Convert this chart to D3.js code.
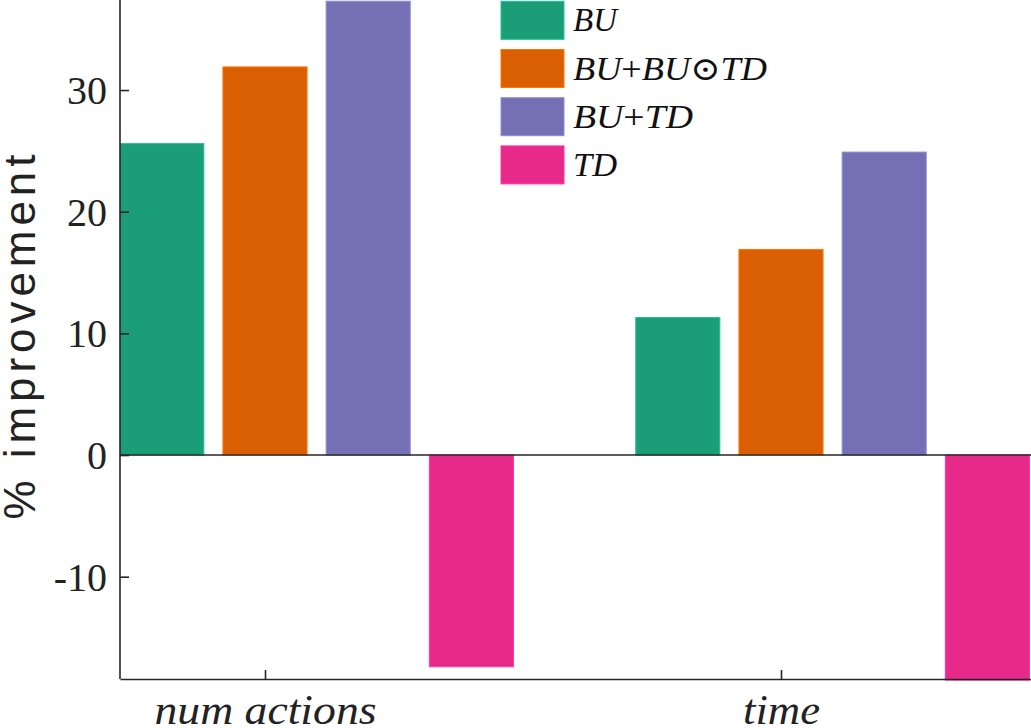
<!DOCTYPE html>
<html lang="en">
<head>
<meta charset="UTF-8">
<title>% improvement</title>
<script src="https://d3js.org/d3.v7.min.js"></script>
<style>
  body { margin: 0; background: #fff; }
  svg { display: block; }
  .serif { font-family: "Liberation Serif", "DejaVu Serif", serif; }
</style>
</head>
<body>
<script>

// groups on the x axis
var groups = ["num actions", "time"];

// series, in bar order inside each group (the first one is an unlabelled zero bar)
var series = ["base", "BU", "BU+BU\u2299TD", "BU+TD", "TD"];
var seriesColors = ["#e7298a", "#1b9e77", "#d95f02", "#7570b3", "#e7298a"];

// values per series, one per group
var baseValues = [0, 0];
var buValues = [25.6, 11.3];
var buBuTdValues = [31.9, 16.9];
var buTdValues = [37.3, 24.9];
var tdValues = [-17.4, -18.5];

var yTicks = [-10, 0, 10, 20, 30];

var width = 1031, height = 728;
var plot = {left: 120, right: 1031, top: 0, bottom: 679};

var svg = d3.select("body").append("svg")
    .attr("width", width)
    .attr("height", height);

var values = [baseValues, buValues, buBuTdValues, buTdValues, tdValues];
var data = [];
series.forEach(function(s, i) {
  groups.forEach(function(g, j) {
    data.push({series: s, si: i, group: g, gi: j, value: values[i][j]});
  });
});

// x: groups at 1 and 2, five slots of 0.2 each
var x = d3.scaleLinear()
    .domain([0.719, 2.4845])
    .range([plot.left, plot.right]);
var slot = 0.2, barW = 0.163;

var y = d3.scaleLinear()
    .domain([-18.41, 37.4])
    .range([plot.bottom, plot.top]);

svg.append("clipPath").attr("id", "clip")
  .append("rect")
    .attr("x", plot.left)
    .attr("y", -5)
    .attr("width", plot.right - plot.left + 5)
    .attr("height", plot.bottom + 7);

// bars
svg.append("g")
    .attr("clip-path", "url(#clip)")
  .selectAll("rect")
  .data(data)
  .enter().append("rect")
    .attr("x", function(d) { return x(d.gi + 1 + (d.si - 2) * slot - barW / 2); })
    .attr("width", function(d) { return x(barW) - x(0); })
    .attr("y", function(d) { return y(Math.max(0, d.value)) + (d.value === 0 ? 1.5 : 0); })
    .attr("height", function(d) { return Math.abs(y(d.value) - y(0)); })
    .attr("fill", function(d) { return seriesColors[d.si]; })
    .attr("stroke", function(d) { return d3.color(seriesColors[d.si]).brighter(0.6); })
    .attr("stroke-width", 1);

// zero baseline
svg.append("line")
    .attr("x1", plot.left).attr("x2", plot.right)
    .attr("y1", y(0)).attr("y2", y(0))
    .attr("stroke", "#262626")
    .attr("stroke-width", 1.5);

// y axis
var yAxis = svg.append("g")
    .attr("transform", "translate(" + plot.left + ",0)")
    .call(d3.axisLeft(y)
      .tickValues(yTicks)
      .tickFormat(function(d) { return String(d); })
      .tickSize(-9).tickPadding(13).tickSizeOuter(0));
yAxis.select(".domain")
    .attr("d", "M0," + (plot.top - 2) + "V" + plot.bottom);

// x axis
var xAxis = svg.append("g")
    .attr("transform", "translate(0," + plot.bottom + ")")
    .call(d3.axisBottom(x)
      .tickValues([1, 2])
      .tickFormat(function(d) { return groups[d - 1]; })
      .tickSize(-9).tickPadding(33).tickSizeOuter(0));

svg.selectAll(".domain, .tick line")
    .attr("stroke", "#262626")
    .attr("stroke-width", 1.6);

yAxis.attr("font-family", null);
xAxis.attr("font-family", null);

yAxis.selectAll(".tick text")
    .attr("class", "serif")
    .style("font-size", "40px")
    .attr("fill", "#222")
    .attr("dy", "0.34em");

xAxis.selectAll(".tick text")
    .attr("class", "serif")
    .style("font-style", "italic")
    .style("font-size", "42px")
    .attr("fill", "#222")
    .attr("dy", 0)
    .attr("y", 724 - plot.bottom)
    .attr("textLength", function(d) { return d === 1 ? 222 : 77; })
    .attr("lengthAdjust", "spacingAndGlyphs");

// y label
svg.append("text")
    .attr("transform", "translate(35," + 337 + ") rotate(-90)")
    .attr("text-anchor", "middle")
    .attr("font-family", "'Liberation Sans', Arial, sans-serif")
    .attr("font-size", 44)
    .attr("fill", "#222")
    .attr("textLength", 365)
    .attr("lengthAdjust", "spacing")
    .text("% improvement");

// legend
var legendItems = [
  {si: 1, parts: [["BU", "italic"]], len: 44},
  {si: 2, parts: [["BU", "italic"], ["+", "normal"], ["BU", "italic"], ["\u2299", "normal"], ["TD", "italic"]], len: 194},
  {si: 3, parts: [["BU", "italic"], ["+", "normal"], ["TD", "italic"]], len: 120},
  {si: 4, parts: [["TD", "italic"]], len: 44}
];

var legend = svg.append("g");
var rows = legend.selectAll("g")
  .data(legendItems)
  .enter().append("g")
    .attr("transform", function(d, i) { return "translate(501," + (1.3 + i * 48.2) + ")"; });

rows.append("rect")
    .attr("width", 63)
    .attr("height", 38)
    .attr("fill", function(d) { return seriesColors[d.si]; })
    .attr("stroke", function(d) { return d3.color(seriesColors[d.si]).brighter(0.6); })
    .attr("stroke-width", 1);

var labels = rows.append("text")
    .attr("class", "serif")
    .attr("x", 72)
    .attr("y", 30)
    .style("font-size", "33px")
    .attr("fill", "#111")
    .attr("textLength", function(d) { return d.len; })
    .attr("lengthAdjust", "spacingAndGlyphs");

labels.selectAll("tspan")
  .data(function(d) { return d.parts; })
  .enter().append("tspan")
    .style("font-style", function(p) { return p[1]; })
    .text(function(p) { return p[0]; });

</script>
</body>
</html>
